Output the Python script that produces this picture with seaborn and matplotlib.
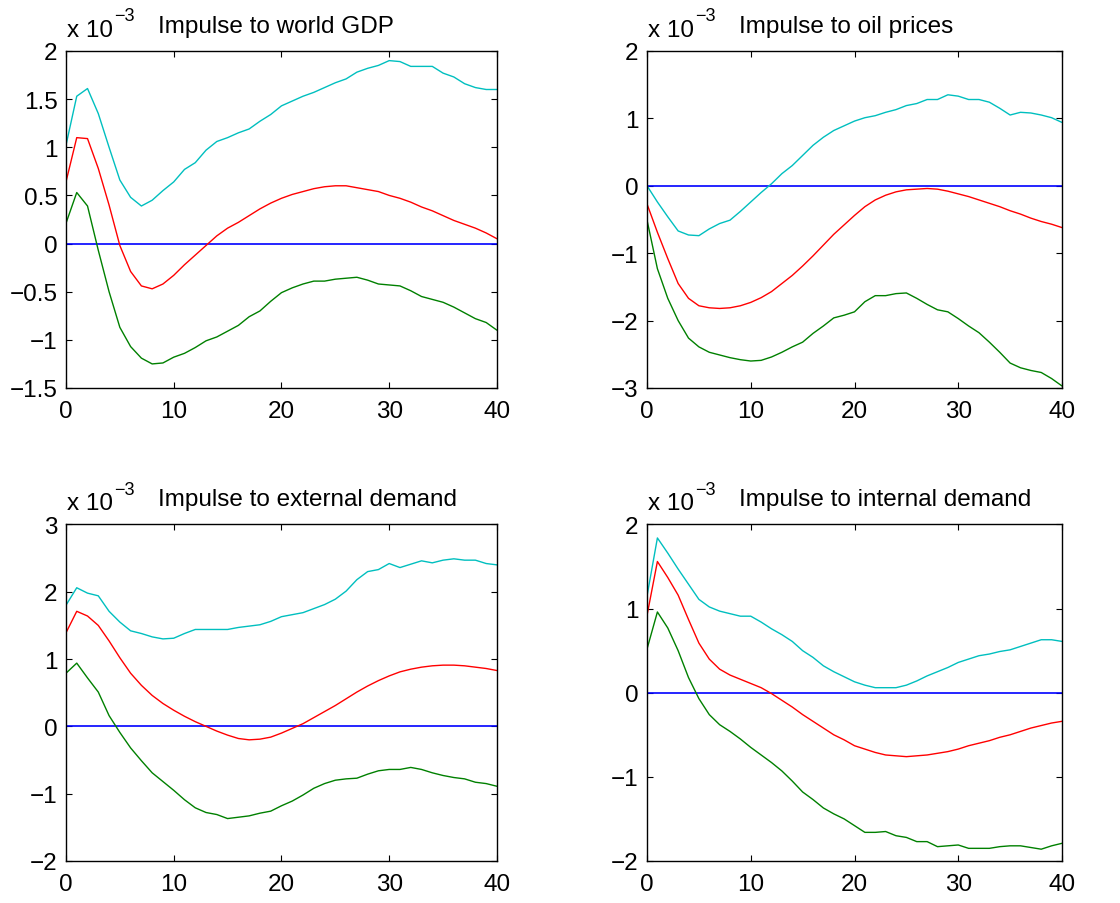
import numpy as np
import pandas as pd
import matplotlib
matplotlib.use('Agg')
import matplotlib.pyplot as plt
import seaborn as sns
from matplotlib.ticker import FuncFormatter

# Impulse responses (units of 1e-3), horizons 0..40
horizon = list(range(41))

gdp_upper = [1.02, 1.53, 1.61, 1.35, 1.00, 0.66, 0.48, 0.39, 0.45, 0.55, 0.64, 0.77, 0.84, 0.97,
             1.06, 1.10, 1.15, 1.19, 1.27, 1.34, 1.43, 1.48, 1.53, 1.57, 1.62, 1.67, 1.71, 1.78,
             1.82, 1.85, 1.90, 1.89, 1.84, 1.84, 1.84, 1.77, 1.73, 1.66, 1.62, 1.60, 1.60]
gdp_median = [0.64, 1.10, 1.09, 0.78, 0.40, -0.02, -0.29, -0.44, -0.47, -0.42, -0.33, -0.22, -0.12,
              -0.02, 0.08, 0.16, 0.22, 0.29, 0.36, 0.42, 0.47, 0.51, 0.54, 0.57, 0.59, 0.60, 0.60,
              0.58, 0.56, 0.54, 0.50, 0.47, 0.43, 0.38, 0.34, 0.29, 0.24, 0.20, 0.16, 0.11, 0.05]
gdp_lower = [0.21, 0.53, 0.39, -0.07, -0.50, -0.87, -1.07, -1.19, -1.25, -1.24, -1.18, -1.14, -1.08,
             -1.01, -0.97, -0.91, -0.85, -0.76, -0.70, -0.60, -0.51, -0.46, -0.42, -0.39, -0.39,
             -0.37, -0.36, -0.35, -0.38, -0.42, -0.43, -0.44, -0.49, -0.55, -0.58, -0.61, -0.66,
             -0.72, -0.78, -0.82, -0.90]

oil_upper = [0.00, -0.24, -0.46, -0.67, -0.73, -0.74, -0.64, -0.56, -0.51, -0.38, -0.24, -0.10, 0.03,
             0.18, 0.30, 0.45, 0.60, 0.72, 0.82, 0.89, 0.96, 1.01, 1.04, 1.09, 1.13, 1.19, 1.22,
             1.28, 1.28, 1.35, 1.33, 1.28, 1.28, 1.24, 1.15, 1.05, 1.09, 1.08, 1.05, 1.01, 0.94]
oil_median = [-0.27, -0.69, -1.08, -1.45, -1.67, -1.78, -1.81, -1.82, -1.81, -1.78, -1.73, -1.66,
              -1.57, -1.45, -1.33, -1.19, -1.04, -0.88, -0.72, -0.58, -0.44, -0.31, -0.21, -0.14,
              -0.09, -0.06, -0.05, -0.04, -0.05, -0.08, -0.12, -0.16, -0.21, -0.26, -0.31, -0.37,
              -0.42, -0.48, -0.53, -0.57, -0.62]
oil_lower = [-0.51, -1.23, -1.67, -2.00, -2.26, -2.39, -2.47, -2.51, -2.55, -2.58, -2.60, -2.59,
             -2.54, -2.47, -2.39, -2.32, -2.19, -2.08, -1.96, -1.92, -1.87, -1.72, -1.63, -1.63,
             -1.60, -1.59, -1.67, -1.76, -1.84, -1.87, -1.97, -2.08, -2.18, -2.32, -2.47, -2.63,
             -2.70, -2.74, -2.77, -2.86, -2.97]

ext_upper = [1.80, 2.06, 1.98, 1.94, 1.71, 1.55, 1.42, 1.38, 1.33, 1.30, 1.31, 1.38, 1.44, 1.44,
             1.44, 1.44, 1.47, 1.49, 1.51, 1.56, 1.63, 1.66, 1.69, 1.75, 1.81, 1.89, 2.01, 2.18,
             2.30, 2.33, 2.42, 2.36, 2.41, 2.46, 2.43, 2.47, 2.49, 2.47, 2.47, 2.42, 2.40]
ext_median = [1.39, 1.71, 1.64, 1.50, 1.27, 1.02, 0.79, 0.61, 0.46, 0.34, 0.24, 0.15, 0.07, 0.00,
              -0.07, -0.13, -0.18, -0.20, -0.19, -0.16, -0.10, -0.03, 0.04, 0.13, 0.22, 0.31, 0.41,
              0.51, 0.60, 0.68, 0.75, 0.81, 0.85, 0.88, 0.90, 0.91, 0.91, 0.90, 0.88, 0.86, 0.83]
ext_lower = [0.79, 0.94, 0.72, 0.51, 0.16, -0.09, -0.32, -0.51, -0.69, -0.82, -0.95, -1.09, -1.21,
             -1.28, -1.31, -1.37, -1.35, -1.33, -1.29, -1.26, -1.18, -1.11, -1.02, -0.92, -0.85,
             -0.80, -0.78, -0.77, -0.71, -0.66, -0.64, -0.64, -0.61, -0.64, -0.69, -0.73, -0.76,
             -0.78, -0.83, -0.85, -0.89]

int_upper = [1.15, 1.84, 1.66, 1.47, 1.29, 1.11, 1.02, 0.97, 0.94, 0.91, 0.91, 0.84, 0.76, 0.69,
             0.61, 0.50, 0.42, 0.32, 0.25, 0.19, 0.13, 0.09, 0.06, 0.06, 0.06, 0.09, 0.14, 0.20,
             0.25, 0.30, 0.36, 0.40, 0.44, 0.46, 0.49, 0.51, 0.55, 0.59, 0.63, 0.63, 0.61]
int_median = [0.92, 1.56, 1.37, 1.16, 0.87, 0.59, 0.40, 0.28, 0.21, 0.16, 0.11, 0.06, -0.01, -0.09,
              -0.17, -0.26, -0.34, -0.42, -0.50, -0.56, -0.63, -0.67, -0.71, -0.74, -0.75, -0.76,
              -0.75, -0.74, -0.72, -0.70, -0.67, -0.63, -0.60, -0.57, -0.53, -0.50, -0.46, -0.42,
              -0.39, -0.36, -0.34]
int_lower = [0.52, 0.96, 0.77, 0.50, 0.18, -0.07, -0.26, -0.38, -0.46, -0.55, -0.65, -0.74, -0.83,
             -0.93, -1.05, -1.18, -1.27, -1.37, -1.44, -1.50, -1.58, -1.66, -1.66, -1.65, -1.70,
             -1.72, -1.77, -1.77, -1.83, -1.82, -1.81, -1.85, -1.85, -1.85, -1.83, -1.82, -1.82,
             -1.84, -1.86, -1.82, -1.79]

titles = ['Impulse to world GDP', 'Impulse to oil prices',
          'Impulse to external demand', 'Impulse to internal demand']
ylims = [(-1.5, 2), (-3, 2), (-2, 3), (-2, 2)]
ysteps = [0.5, 1, 1, 1]

panels = [(gdp_lower, gdp_median, gdp_upper), (oil_lower, oil_median, oil_upper),
          (ext_lower, ext_median, ext_upper), (int_lower, int_median, int_upper)]

sns.set_style('ticks')
plt.rcParams['font.family'] = ['Liberation Sans', 'DejaVu Sans']
plt.rcParams['text.color'] = 'black'

fig = plt.figure(figsize=(11.2, 9.04), dpi=100)
positions = [[0.0589, 0.5697, 0.3848, 0.3728], [0.5777, 0.5697, 0.3705, 0.3728],
             [0.0589, 0.0465, 0.3848, 0.3722], [0.5777, 0.0465, 0.3705, 0.3722]]

fmt = FuncFormatter(lambda v, _: f'{v:g}'.replace('-', '\u2212'))
fs = 17.5

for pos, title, ylim, step, (lo, med, up) in zip(positions, titles, ylims, ysteps, panels):
    ax = fig.add_axes(pos)
    df = pd.DataFrame({'h': horizon, 'zero': 0.0, 'lower': lo, 'median': med, 'upper': up})
    sns.lineplot(data=df, x='h', y='zero', color=(0, 0, 1), lw=1.2, ax=ax)
    sns.lineplot(data=df, x='h', y='lower', color=(0, 0.5, 0), lw=1.0, ax=ax)
    sns.lineplot(data=df, x='h', y='median', color=(1, 0, 0), lw=1.0, ax=ax)
    sns.lineplot(data=df, x='h', y='upper', color=(0, 0.75, 0.75), lw=1.0, ax=ax)
    ax.set_xlim(0, 40)
    ax.set_ylim(*ylim)
    ax.set_xticks(range(0, 41, 10))
    ax.set_yticks(np.arange(ylim[0], ylim[1] + step / 2, step))
    ax.yaxis.set_major_formatter(fmt)
    ax.set_xlabel('')
    ax.set_ylabel('')
    for s in ax.spines.values():
        s.set_visible(True)
        s.set_linewidth(1.0)
        s.set_color('black')
    ax.tick_params(direction='in', length=4, width=0.8, top=True, right=True,
                   labelsize=fs, colors='black')
    ax.tick_params(axis='x', pad=9)
    ax.tick_params(axis='y', pad=6)
    # MATLAB-style exponent label
    ax.annotate('x 10', xy=(0, 1), xycoords='axes fraction', xytext=(0.5, 11),
                textcoords='offset points', ha='left', va='baseline', fontsize=fs)
    ax.annotate('\u22123', xy=(0, 1), xycoords='axes fraction', xytext=(34.5, 22),
                textcoords='offset points', ha='left', va='baseline', fontsize=13)
    ax.annotate(title, xy=(0, 1), xycoords='axes fraction', xytext=(66, 14),
                textcoords='offset points', ha='left', va='baseline', fontsize=fs)

fig.savefig('out.png', dpi=100)
